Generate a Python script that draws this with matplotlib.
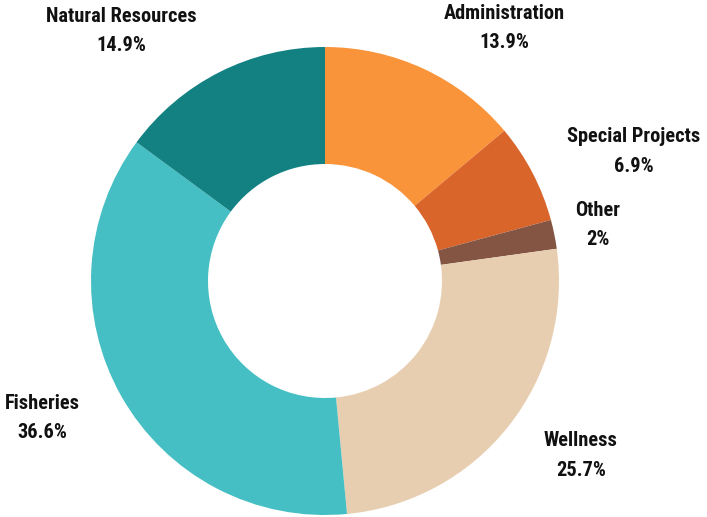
import numpy as np
import matplotlib.pyplot as plt

# ============================================================
# DATA
# ============================================================
categories = ['Administration', 'Special Projects', 'Other', 'Wellness',
              'Fisheries', 'Natural Resources']
shares = [13.9, 6.9, 2.0, 25.7, 36.6, 14.9]
pct_labels = ['13.9%', '6.9%', '2%', '25.7%', '36.6%', '14.9%']
colors = ['#F9943B', '#D9652B', '#855544', '#E8CEB0', '#45BFC3', '#138082']

# label layout: radius (in pie radii) and angle nudge (deg) from wedge middle
label_r = [1.325, 1.43, 1.19, 1.323, 1.344, 1.379]
label_nudge = [-10.3, -4.8, 0.1, 4.1, -3.7, 12.4]

# ============================================================
# PLOT
# ============================================================
fig = plt.figure(figsize=(7.07, 5.17), dpi=100)
ax = fig.add_axes([0, 0, 1, 1])

wedges, _ = ax.pie(shares, colors=colors, startangle=90, counterclock=False,
                   radius=1.0, wedgeprops=dict(width=0.5, linewidth=0))

# pie centre / radius in pixels, taken from the reference layout
R = 234.0
cx, cy = 325.0, 281.0
ax.set_xlim(-cx / R, (707 - cx) / R)
ax.set_ylim((cy - 517) / R, cy / R)
ax.set_aspect('auto')
ax.axis('off')

font = ['Roboto Condensed', 'DejaVu Sans']
cum = 0.0
for i, (name, val) in enumerate(zip(categories, shares)):
    mid = 90 - (cum + val / 2) / sum(shares) * 360
    cum += val
    ang = np.deg2rad(mid + label_nudge[i])
    x = label_r[i] * np.cos(ang)
    y = label_r[i] * np.sin(ang)
    ax.text(x, y, f'{name}\n{pct_labels[i]}', ha='center', va='center',
            fontsize=14.7, fontweight='bold', family=font, linespacing=1.72,
            color='#111111')

fig.savefig('out.png', dpi=100)
